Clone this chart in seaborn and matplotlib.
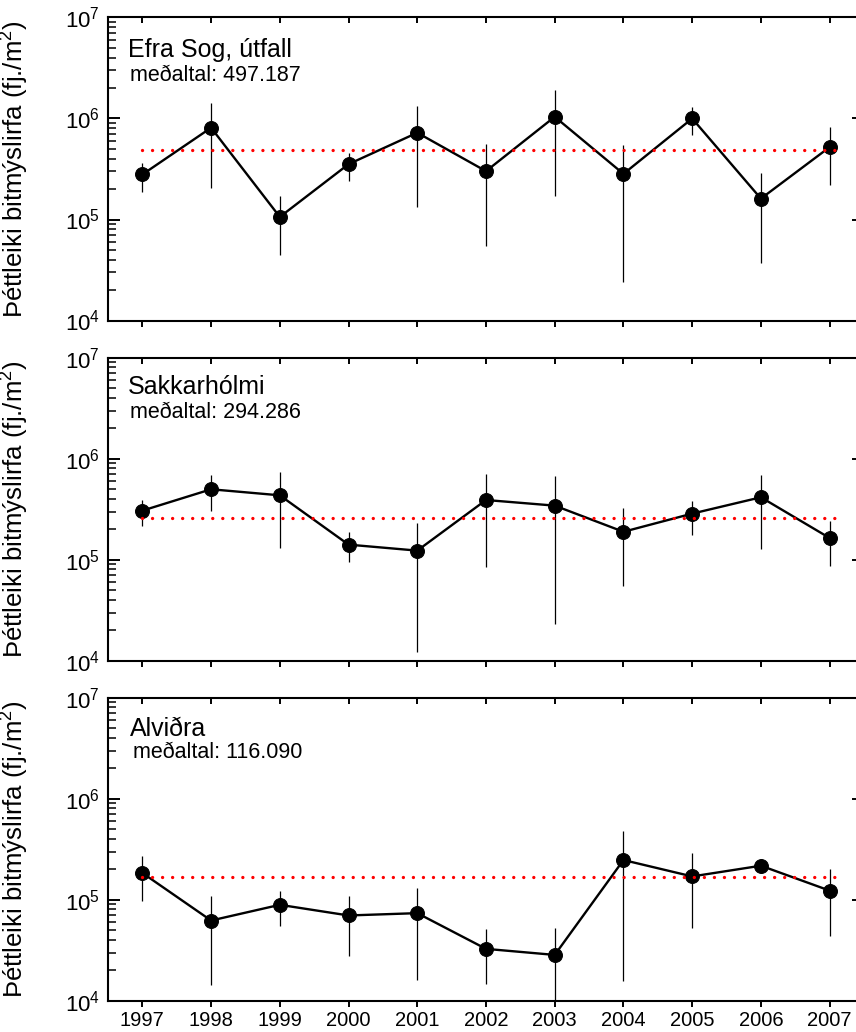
import matplotlib
matplotlib.use("Agg")
import matplotlib.pyplot as plt
import seaborn as sns
import numpy as np
import pandas as pd
from matplotlib.ticker import LogLocator, FixedLocator, NullFormatter

# ---------------- data ----------------
years = [1997, 1998, 1999, 2000, 2001, 2002, 2003, 2004, 2005, 2006, 2007]

sites = ["Efra Sog, útfall", "Sakkarhólmi", "Alviðra"]
mean_labels = ["meðaltal: 497.187", "meðaltal: 294.286", "meðaltal: 116.090"]
mean_lines = [4.86e5, 2.57e5, 1.66e5]

efra_vals = [2.79e5, 8.1e5, 1.06e5, 3.53e5, 7.23e5, 3.01e5, 1.04e6, 2.83e5, 1.0e6, 1.61e5, 5.21e5]
efra_hi = [3.64e5, 1.41e6, 1.70e5, 4.58e5, 1.33e6, 5.53e5, 1.92e6, 5.49e5, 1.31e6, 2.86e5, 8.3e5]
efra_lo = [1.86e5, 2.04e5, 4.41e4, 2.43e5, 1.32e5, 5.42e4, 1.70e5, 2.38e4, 6.8e5, 3.71e4, 2.20e5]

sakk_vals = [3.06e5, 4.98e5, 4.34e5, 1.41e5, 1.23e5, 3.90e5, 3.43e5, 1.89e5, 2.86e5, 4.15e5, 1.64e5]
sakk_hi = [3.87e5, 6.97e5, 7.39e5, 1.88e5, 2.31e5, 7.01e5, 6.70e5, 3.25e5, 3.85e5, 6.97e5, 2.39e5]
sakk_lo = [2.14e5, 3.01e5, 1.32e5, 9.46e4, 1.23e4, 8.38e4, 2.33e4, 5.55e4, 1.77e5, 1.29e5, 8.57e4]

alv_vals = [1.84e5, 6.22e4, 8.9e4, 6.98e4, 7.36e4, 3.26e4, 2.84e4, 2.47e5, 1.70e5, 2.17e5, 1.23e5]
alv_hi = [2.73e5, 1.10e5, 1.22e5, 1.10e5, 1.30e5, 5.1e4, 5.23e4, 4.83e5, 2.90e5, 2.53e5, 2.03e5]
alv_lo = [9.6e4, 1.42e4, 5.55e4, 2.77e4, 1.59e4, 1.45e4, 9.5e3, 1.58e4, 5.23e4, 1.84e5, 4.41e4]

series = [(efra_vals, efra_lo, efra_hi), (sakk_vals, sakk_lo, sakk_hi), (alv_vals, alv_lo, alv_hi)]

ylabel = "Þéttleiki bitmýslirfa (fj./m$^2$)"

# ---------------- style ----------------
sns.set_style("ticks")
plt.rcParams["font.family"] = ["Liberation Sans", "DejaVu Sans"]
plt.rcParams["mathtext.fontset"] = "custom"
plt.rcParams["mathtext.rm"] = "Liberation Sans"
plt.rcParams["mathtext.default"] = "regular"
for k in ["text.color", "axes.labelcolor", "xtick.color", "ytick.color", "axes.edgecolor"]:
    plt.rcParams[k] = "black"

fig = plt.figure(figsize=(8.56, 10.32), dpi=100)

left = 108 / 856
width = 756 / 856
height = 303 / 1032
bottoms = [1 - 320.5 / 1032, 1 - 660.7 / 1032, 1 - 1000.7 / 1032]
title_y = [0.894, 0.904, 0.898]
mean_y = [0.808, 0.818, 0.818]
title_x = [0.026, 0.026, 0.029]
mean_x = [0.029, 0.029, 0.033]

for i, (site, (vals, lo, hi)) in enumerate(zip(sites, series)):
    ax = fig.add_axes([left, bottoms[i], width, height])
    df = pd.DataFrame({"year": years, "val": vals, "lo": lo, "hi": hi})

    ax.vlines(df["year"], df["lo"], df["hi"], color="black", linewidth=0.9, zorder=2)
    sns.lineplot(data=df, x="year", y="val", ax=ax, color="black", linewidth=1.7,
                 marker="o", markersize=10, markeredgecolor="black",
                 markerfacecolor="black", zorder=3, legend=False)
    ax.hlines(mean_lines[i], years[0], years[-1] + 0.12, colors="red",
              linestyles=(0, (0.01, 3.0)), linewidth=2.4, zorder=4,
              capstyle="round")

    ax.set_yscale("log")
    ax.set_ylim(1e4, 1e7)
    ax.set_xlim(1996.5, 2007.5)
    ax.xaxis.set_major_locator(FixedLocator(years))
    ax.yaxis.set_major_locator(LogLocator(base=10, numticks=10))
    ax.yaxis.set_minor_locator(LogLocator(base=10, subs=np.arange(2, 10), numticks=20))
    ax.yaxis.set_minor_formatter(NullFormatter())

    for s in ax.spines.values():
        s.set_linewidth(1.5)
        s.set_visible(True)

    ax.tick_params(axis="y", which="major", direction="in", length=8.5, width=1.4,
                   left=True, right=True, labelsize=16, pad=6)
    ax.tick_params(axis="y", which="minor", direction="in", length=5.5, width=1.1,
                   left=True, right=True)
    ax.tick_params(axis="x", which="major", direction="out", length=4.3, width=1.4,
                   bottom=True, top=False, labelsize=14.5, pad=3)
    ax.tick_params(axis="x", which="minor", bottom=False, top=False)

    # inward ticks along the top edge
    top = ax.twiny()
    top.set_xlim(ax.get_xlim())
    top.xaxis.set_major_locator(FixedLocator(years))
    top.tick_params(axis="x", which="major", direction="in", length=4.5, width=1.4,
                    top=True, bottom=False, labeltop=False, labelbottom=False,
                    color="black")
    top.tick_params(axis="x", which="minor", top=False, bottom=False)
    top.tick_params(axis="y", left=False, right=False, labelleft=False, labelright=False)
    for s in top.spines.values():
        s.set_visible(False)

    if i < 2:
        ax.set_xticklabels([])
    ax.set_xlabel("")
    ax.set_ylabel(ylabel, fontsize=18.5)
    ax.yaxis.set_label_coords(-0.102, 0.5)

    ax.text(title_x[i], title_y[i], site, transform=ax.transAxes, fontsize=18,
            ha="left", va="center")
    ax.text(mean_x[i], mean_y[i], mean_labels[i], transform=ax.transAxes, fontsize=15.5,
            ha="left", va="center")

fig.savefig("out.png", dpi=100)
